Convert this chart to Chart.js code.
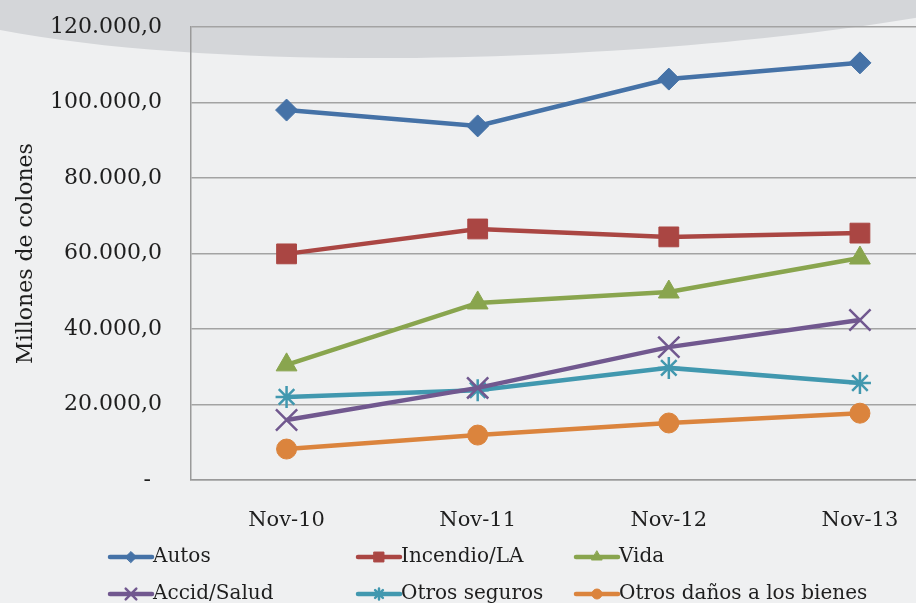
<!DOCTYPE html>
<html>
<head>
<meta charset="utf-8">
<script src="https://cdn.jsdelivr.net/npm/chart.js@4.4.1/dist/chart.umd.min.js"></script>
<style>
  html, body { margin: 0; padding: 0; overflow: hidden; background: #eff0f1; }
  #wrap { width: 973px; height: 603px; }
</style>
</head>
<body>
<div id="wrap"><canvas id="chart"></canvas></div>
<script>
(function () {
    "use strict";

    const categories = ["Nov-10", "Nov-11", "Nov-12", "Nov-13"];
    const seriesNames = ["Autos", "Incendio/LA", "Vida", "Accid/Salud", "Otros seguros", "Otros daños a los bienes"];
    const autos = [98000, 93800, 106200, 110500];
    const incendio = [59900, 66500, 64400, 65400];
    const vida = [30500, 46900, 49800, 58800];
    const accidSalud = [15900, 24400, 35200, 42400];
    const otrosSeguros = [22000, 23800, 29700, 25700];
    const otrosDanos = [8200, 11900, 15100, 17700];
    const yTicks = [0, 20000, 40000, 60000, 80000, 100000, 120000];

    const serif = "'DejaVu Serif', 'Liberation Serif', serif";
    const textColor = "#1e1e1e";

    function fmt(v) {
        if (v === 0) return "-\u2002";
        let s = String(Math.round(v));
        s = s.replace(/\B(?=(\d{3})+(?!\d))/g, ".");
        return s + ",0";
    }

    const styles = [
        { color: "#4572a7", point: "rectRot", radius: 11, border: 1 },
        { color: "#aa4643", point: "rect", radius: 14, border: 1 },
        { color: "#89a54e", point: "triangle", radius: 12, border: 1 },
        { color: "#71588f", point: "crossRot", radius: 15, border: 2.5 },
        { color: "#4198af", point: "star", radius: 11, border: 2.5 },
        { color: "#db843d", point: "circle", radius: 10, border: 1 },
    ];
    const values = [autos, incendio, vida, accidSalud, otrosSeguros, otrosDanos];

    const datasets = values.map(function (data, i) {
        const s = styles[i];
        return {
            label: seriesNames[i],
            data: data,
            borderColor: s.color,
            backgroundColor: s.color,
            pointBackgroundColor: s.color,
            pointBorderColor: s.color,
            pointStyle: s.point,
            pointRadius: s.radius,
            pointBorderWidth: s.border,
            borderWidth: 4.5,
            tension: 0,
            fill: false,
        };
    });

    // background with the curved grey band at the top
    const backdrop = {
        id: "backdrop",
        beforeDraw(chart) {
            const ctx = chart.ctx;
            ctx.save();
            ctx.fillStyle = "#eff0f1";
            ctx.fillRect(0, 0, chart.width, chart.height);
            ctx.fillStyle = "#d4d6d9";
            ctx.beginPath();
            ctx.moveTo(0, 0);
            ctx.lineTo(0, 30);
            ctx.bezierCurveTo(250, 78, 700, 60, 960, 10);
            ctx.lineTo(chart.width, 8);
            ctx.lineTo(chart.width, 0);
            ctx.closePath();
            ctx.fill();
            ctx.restore();
        },
    };

    // legend laid out in a 3 column grid
    const gridLegend = {
        id: "gridLegend",
        afterDraw(chart) {
            const ctx = chart.ctx;
            const cols = [110, 358, 576];
            const rows = [557, 594];
            ctx.save();
            chart.data.datasets.forEach(function (ds, i) {
                const x = cols[i % 3];
                const y = rows[Math.floor(i / 3)];
                ctx.strokeStyle = ds.borderColor;
                ctx.lineWidth = 4.5;
                ctx.lineCap = "round";
                ctx.beginPath();
                ctx.moveTo(x, y);
                ctx.lineTo(x + 42, y);
                ctx.stroke();
                ctx.fillStyle = ds.borderColor;
                ctx.lineWidth = ds.pointBorderWidth;
                Chart.helpers.drawPoint(ctx, {
                    pointStyle: ds.pointStyle,
                    radius: ds.pointRadius * 0.5,
                    rotation: 0,
                    borderWidth: ds.pointBorderWidth,
                }, x + 21, y);
                ctx.fillStyle = textColor;
                ctx.font = "20px " + serif;
                ctx.textBaseline = "middle";
                ctx.textAlign = "left";
                ctx.fillText(ds.label, x + 43, y);
            });
            ctx.restore();
        },
    };

    const ctx = document.getElementById("chart").getContext("2d");
    new Chart(ctx, {
        type: "line",
        data: { labels: categories, datasets: datasets },
        plugins: [backdrop, gridLegend],
        options: {
            responsive: true,
            maintainAspectRatio: false,
            animation: false,
            layout: { padding: { top: 27, right: 5, left: 0, bottom: 0 } },
            plugins: {
                legend: { display: false },
                tooltip: { enabled: false },
            },
            scales: {
                x: {
                    offset: true,
                    grid: { display: false, drawTicks: false },
                    border: { color: "#9a9a9a", width: 1.5 },
                    ticks: {
                        color: textColor,
                        font: { family: serif, size: 21 },
                        padding: 28,
                        maxRotation: 0,
                    },
                    afterFit(scale) { scale.height = 123; },
                },
                y: {
                    min: 0,
                    max: 120000,
                    afterBuildTicks(scale) {
                        scale.ticks = yTicks.map(function (v) { return { value: v }; });
                    },
                    grid: { color: "#a3a3a3", lineWidth: 1.5, drawTicks: false },
                    border: { color: "#9a9a9a", width: 1.5 },
                    ticks: {
                        color: textColor,
                        font: { family: serif, size: 22 },
                        padding: 29,
                        callback: function (v) { return fmt(v); },
                    },
                    title: {
                        display: true,
                        text: "Millones de colones",
                        color: textColor,
                        font: { family: serif, size: 22 },
                        padding: { top: 13, bottom: 0 },
                    },
                    afterFit(scale) {
                        scale.width = 191;
                        scale.paddingTop = 0;
                        scale.paddingBottom = 0;
                    },
                },
            },
        },
    });
})();
</script>
</body>
</html>
